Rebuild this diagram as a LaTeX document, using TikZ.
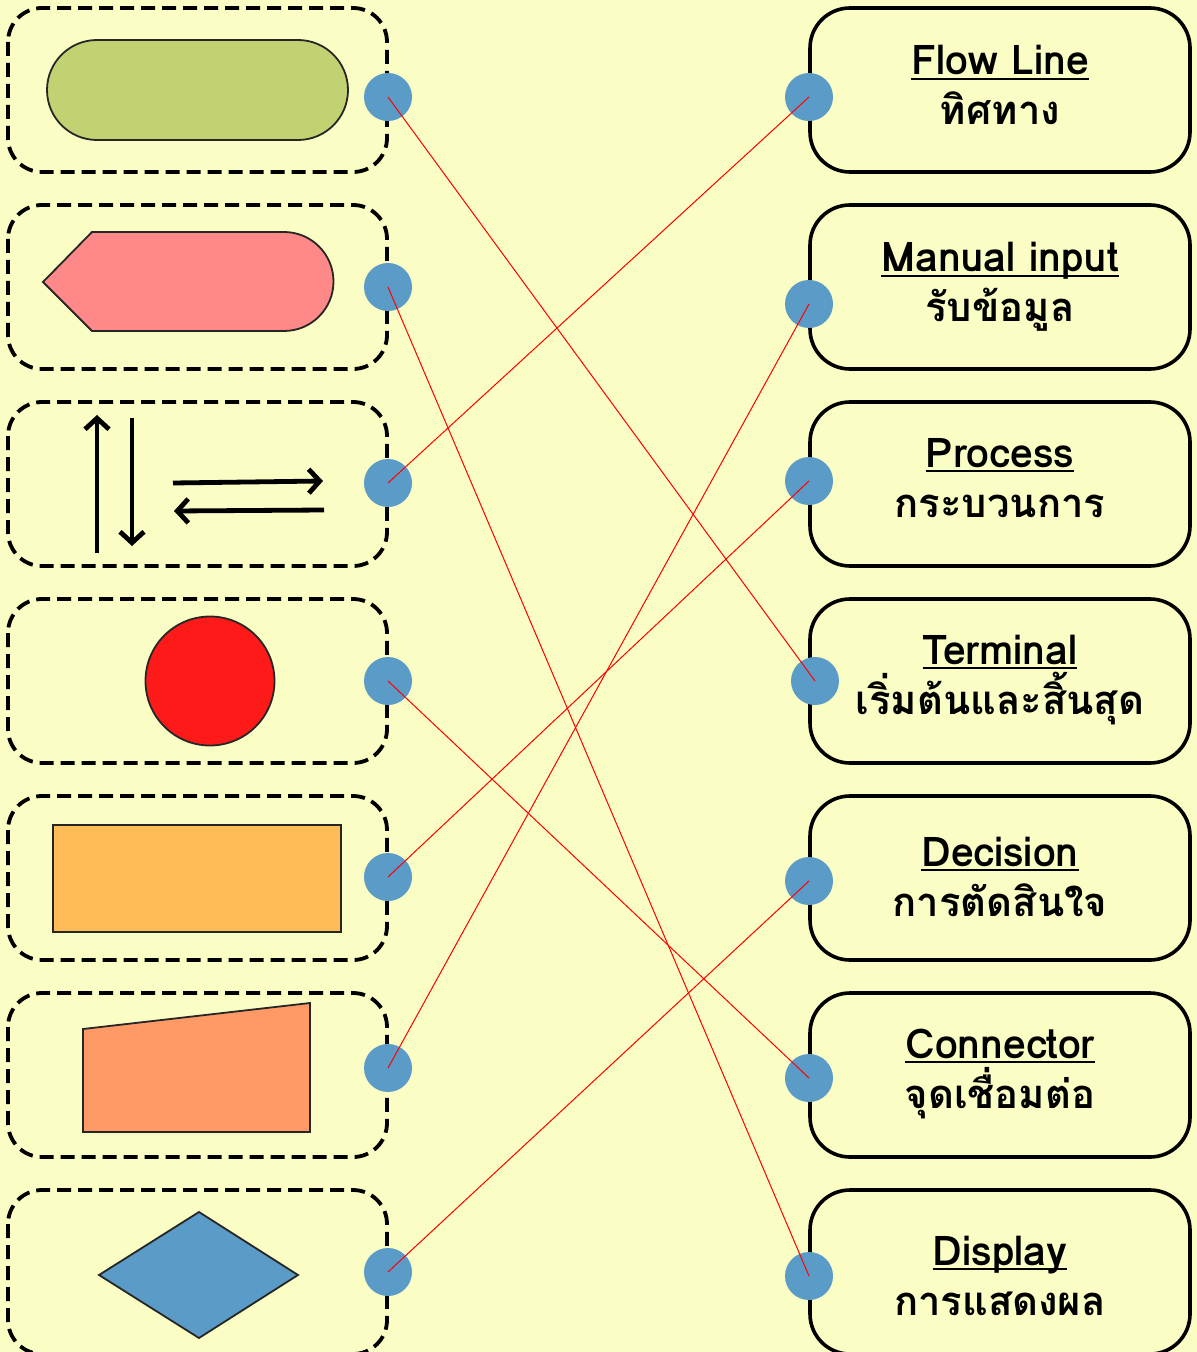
\documentclass[tikz,border=0pt]{standalone}
\usepackage{fontspec}
\newfontfamily\thaifont[Script=Thai]{Loma}
\setmainfont{Loma}
\usetikzlibrary{arrows.meta}
\definecolor{bg}{RGB}{250,253,196}
\definecolor{dotblue}{RGB}{91,155,200}
\definecolor{termgreen}{RGB}{194,210,115}
\definecolor{dispink}{RGB}{255,136,136}
\definecolor{redcirc}{RGB}{255,26,26}
\definecolor{procorange}{RGB}{255,188,87}
\definecolor{manorange}{RGB}{255,153,102}
\definecolor{decblue}{RGB}{90,155,200}
\newcommand\myul[1]{\setbox0=\hbox{#1}\rlap{\rule[-2.6pt]{\wd0}{1.3pt}}\box0}
\tikzset{
  lbox/.style={draw=black, line width=1.9pt, dash pattern=on 7pt off 3.5pt, rounded corners=17pt},
  rbox/.style={draw=black, line width=1.8pt, rounded corners=20pt},
  dotnode/.style={circle, fill=dotblue, inner sep=0pt, minimum size=24pt},
  conn/.style={draw=red, line width=0.5pt},
  shp/.style={draw=black!85, line width=0.9pt},
  flowarr/.style={line width=2.4pt, -{Straight Barb[length=5.5pt,width=12pt]}},
  entext/.style={anchor=base, font=\bfseries\fontsize{20.5}{24}\selectfont, inner sep=0pt},
  thtext/.style={anchor=base, font=\thaifont\bfseries\fontsize{20}{24}\selectfont, inner sep=0pt}
}
\begin{document}
\begin{tikzpicture}[x=0.5pt,y=-0.5pt]
\fill[bg] (0,0) rectangle (1197,1352);
\useasboundingbox (0,0) rectangle (1197,1352);

% left dashed boxes
\foreach \t in {8,205,402,599,796,993,1190}{
  \path[lbox] (8,\t) rectangle (387,\t+164);
}
% right boxes
\foreach \t in {8,205,402,599,796,993,1190}{
  \path[rbox] (810,\t) rectangle (1190,\t+164);
}

% shapes
\path[shp, fill=termgreen, rounded corners=25pt] (47,40) rectangle (348,140);
\path[shp, fill=dispink] (43,282) -- (92,232) -- (284,232) arc(-90:90:49.5) -- (92,331) -- cycle;
\draw[flowarr] (97,553) -- (97,415);
\draw[flowarr] (132,418) -- (132,546);
\draw[flowarr] (173,483) -- (323,481);
\draw[flowarr] (324,510) -- (174,511);
\path[shp, fill=redcirc] (210,681) circle[radius=64.5];
\path[shp, fill=procorange] (53,825) rectangle (341,932);
\path[shp, fill=manorange] (83,1029) -- (310,1003) -- (310,1132) -- (83,1132) -- cycle;
\path[shp, fill=decblue] (99,1275) -- (199,1212) -- (298,1275) -- (199,1338) -- cycle;

% texts
\node[entext] (e1) at (1000,75) {\myul{Flow Line}};
\node[thtext] (h1) at (1000,125) {ทิศทาง};
\node[entext] (e2) at (1000,272) {\myul{Manual input}};
\node[thtext] (h2) at (1000,322) {รับข้อมูล};
\node[entext] (e3) at (1000,467) {\myul{Process}};
\node[thtext] (h3) at (1000,517) {กระบวนการ};
\node[entext] (e4) at (1000,664) {\myul{Terminal}};
\node[thtext] (h4) at (1000,714) {เริ่มต้นและสิ้นสุด};
\node[entext] (e5) at (1000,866) {\myul{Decision}};
\node[thtext] (h5) at (1000,916) {การตัดสินใจ};
\node[entext] (e6) at (1000,1058) {\myul{Connector}};
\node[thtext] (h6) at (1000,1108) {จุดเชื่อมต่อ};
\node[entext] (e7) at (1000,1265) {\myul{Display}};
\node[thtext] (h7) at (1000,1315) {การแสดงผล};

% dots
\node[dotnode] (l1) at (388,97) {};
\node[dotnode] (l2) at (388,287) {};
\node[dotnode] (l3) at (388,483) {};
\node[dotnode] (l4) at (388,681) {};
\node[dotnode] (l5) at (388,877) {};
\node[dotnode] (l6) at (388,1068) {};
\node[dotnode] (l7) at (388,1272) {};
\node[dotnode] (r1) at (809,97) {};
\node[dotnode] (r2) at (809,304) {};
\node[dotnode] (r3) at (809,481) {};
\node[dotnode] (r4) at (815,681) {};
\node[dotnode] (r5) at (809,881) {};
\node[dotnode] (r6) at (809,1078) {};
\node[dotnode] (r7) at (809,1276) {};

% connectors
\draw[conn] (l1.center) -- (r4.center);
\draw[conn] (l2.center) -- (r7.center);
\draw[conn] (l3.center) -- (r1.center);
\draw[conn] (l4.center) -- (r6.center);
\draw[conn] (l5.center) -- (r3.center);
\draw[conn] (l6.center) -- (r2.center);
\draw[conn] (l7.center) -- (r5.center);
\end{tikzpicture}
\end{document}
